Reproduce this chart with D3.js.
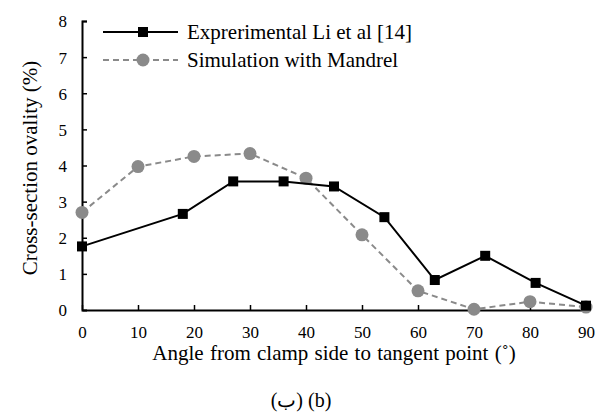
<!DOCTYPE html>
<html>
<head>
<meta charset="utf-8">
<script src="https://cdn.jsdelivr.net/npm/d3@7/dist/d3.min.js"></script>
<style>
html,body{margin:0;padding:0;background:#fff;}
svg{display:block;}
</style>
</head>
<body>
<svg id="chart" width="603" height="414"></svg>
<script>
const expAngles = [0, 18, 27, 36, 45, 54, 63, 72, 81, 90];
const expOvality = [1.76, 2.66, 3.56, 3.56, 3.42, 2.57, 0.83, 1.5, 0.75, 0.12];
const simAngles = [0, 10, 20, 30, 40, 50, 60, 70, 80, 90];
const simOvality = [2.7, 3.97, 4.25, 4.33, 3.65, 2.08, 0.53, 0.02, 0.23, 0.08];
const xTicks = [0, 10, 20, 30, 40, 50, 60, 70, 80, 90];
const yTicks = [0, 1, 2, 3, 4, 5, 6, 7, 8];
const seriesNames = ["Exprerimental Li et al [14]", "Simulation with Mandrel"];

const FONT = "'Liberation Serif', 'Times New Roman', Times, serif";
const svg = d3.select("#chart");
const x = d3.scaleLinear().domain([0, 90]).range([82, 586]);
const y = d3.scaleLinear().domain([0, 8]).range([310, 21]);

// axes
const xAxis = svg.append("g").attr("transform", "translate(0,310)")
  .call(d3.axisBottom(x).tickValues(xTicks).tickSizeInner(-5).tickSizeOuter(0).tickPadding(0));
xAxis.attr("font-family", FONT).attr("font-size", 17);
xAxis.select(".domain").attr("stroke", "#000").attr("stroke-width", 2);
xAxis.selectAll(".tick line").attr("stroke", "#000").attr("stroke-width", 1.5);
xAxis.selectAll(".tick text").attr("y", 28).attr("dy", 0).attr("fill", "#000");

const yAxis = svg.append("g").attr("transform", "translate(82,0)")
  .call(d3.axisLeft(y).tickValues(yTicks).tickSizeInner(-5).tickSizeOuter(-5).tickPadding(0));
yAxis.attr("font-family", FONT).attr("font-size", 17);
yAxis.select(".domain").attr("stroke", "#000").attr("stroke-width", 2);
yAxis.selectAll(".tick line").attr("stroke", "#000").attr("stroke-width", 1.5);
yAxis.selectAll(".tick text").attr("x", -15).attr("dy", "0.35em").attr("fill", "#000");
yAxis.selectAll(".tick").filter(d => d === 0).select("line").remove();

// series
const simData = simAngles.map((a, i) => [a, simOvality[i]]);
const expData = expAngles.map((a, i) => [a, expOvality[i]]);
const line = d3.line().x(d => x(d[0])).y(d => y(d[1]));
const gray = "#8a8a8a";

svg.append("path").datum(simData).attr("d", line)
  .attr("fill", "none").attr("stroke", gray).attr("stroke-width", 2).attr("stroke-dasharray", "6,4");
svg.selectAll(".simpt").data(simData).enter().append("circle")
  .attr("cx", d => x(d[0])).attr("cy", d => y(d[1])).attr("r", 6.5).attr("fill", gray);

svg.append("path").datum(expData).attr("d", line)
  .attr("fill", "none").attr("stroke", "#000").attr("stroke-width", 2);
svg.selectAll(".exppt").data(expData).enter().append("rect")
  .attr("x", d => x(d[0]) - 5).attr("y", d => y(d[1]) - 5).attr("width", 10).attr("height", 10).attr("fill", "#000");

// legend
const lg = svg.append("g").attr("font-family", FONT).attr("font-size", 21);
lg.append("line").attr("x1", 103).attr("x2", 178).attr("y1", 32).attr("y2", 32).attr("stroke", "#000").attr("stroke-width", 2);
lg.append("rect").attr("x", 138).attr("y", 27).attr("width", 10).attr("height", 10).attr("fill", "#000");
lg.append("line").attr("x1", 103).attr("x2", 178).attr("y1", 60).attr("y2", 60).attr("stroke", gray).attr("stroke-width", 2).attr("stroke-dasharray", "6,4");
lg.append("circle").attr("cx", 143).attr("cy", 60).attr("r", 6.5).attr("fill", gray);
lg.selectAll(".lt").data(seriesNames).enter().append("text")
  .attr("x", 187).attr("y", (d, i) => 32 + i * 28).attr("dy", "0.35em").text(d => d);

// titles
const tg = svg.append("g").attr("font-family", FONT).attr("font-size", 21);
tg.append("text").attr("x", 334).attr("y", 360).attr("text-anchor", "middle").attr("word-spacing", 1)
  .text("Angle from clamp side to tangent point (˚)");
tg.append("text").attr("transform", "translate(37,168) rotate(-90)").attr("text-anchor", "middle")
  .text("Cross-section ovality (%)");
tg.append("text").attr("x", 301).attr("y", 407).attr("text-anchor", "middle").attr("font-size", 20)
  .text("(ب) (b)");
</script>
</body>
</html>
